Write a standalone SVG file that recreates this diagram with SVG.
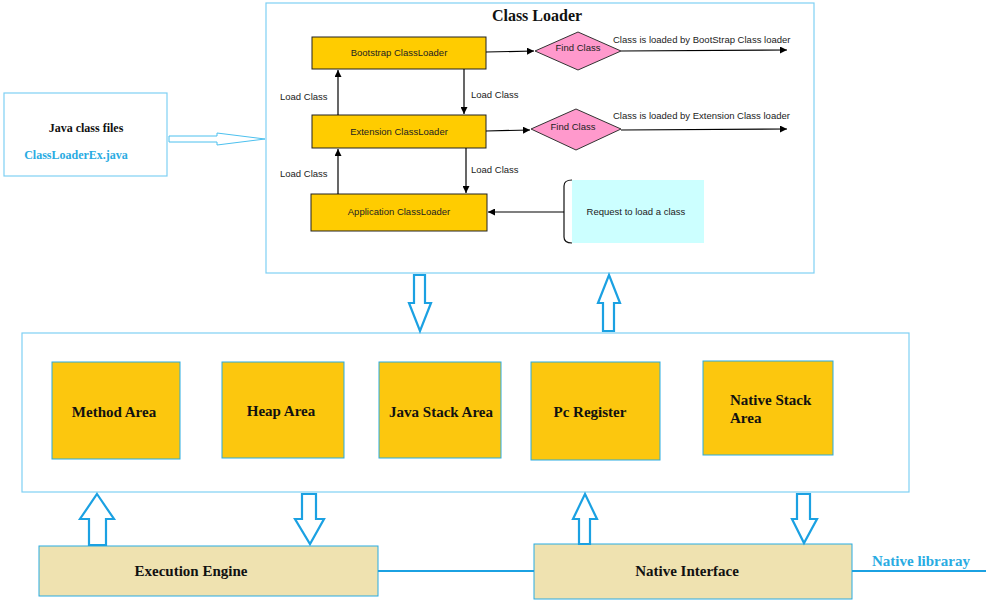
<svg xmlns="http://www.w3.org/2000/svg" width="999" height="609" viewBox="0 0 999 609">
<defs>
<marker id="ah" viewBox="0 0 10 10" refX="10" refY="5" markerWidth="7" markerHeight="7" markerUnits="userSpaceOnUse" orient="auto"><path d="M0,0 L10,5 L0,10 z" fill="#000"/></marker>
<style>
.frame{fill:#fff;stroke:#7fd0f4;stroke-width:1.2}
.cl{fill:#ffcc00;stroke:#222;stroke-width:1}
.ra{fill:#fcc70e;stroke:#29abe2;stroke-width:1}
.eng{fill:#efe2b0;stroke:#29abe2;stroke-width:1}
.dia{fill:#ff99cc;stroke:#333;stroke-width:1}
.hol{fill:#fff;stroke:#1ba1e2;stroke-width:2.2;stroke-linejoin:miter}
.hol2{fill:#fff;stroke:#4cc0ee;stroke-width:1}
.ln{stroke:#000;stroke-width:1.2;fill:none}
.bl{stroke:#1ba1e2;stroke-width:2;fill:none}
.s{font-family:"Liberation Sans",Arial,sans-serif;font-size:9.5px;fill:#222}
.b{font-family:"Liberation Serif","Times New Roman",serif;font-weight:bold;fill:#111}
</style>
</defs>
<g id="class-loader">
<rect class="frame" x="266" y="3" width="548" height="270"/>
<text class="b" x="537" y="21" font-size="16" text-anchor="middle">Class Loader</text>
</g>
<g id="java-files">
<rect class="frame" x="4" y="93" width="163" height="83"/>
<text class="b" x="86" y="132" font-size="12" text-anchor="middle">Java class files</text>
<text class="b" x="76" y="159" font-size="12" text-anchor="middle" style="fill:#29abe2">ClassLoaderEx.java</text>
</g>
<g id="bootstrap"><rect class="cl" x="312" y="37" width="174" height="32"/><text class="s" x="399" y="56" text-anchor="middle">Bootstrap ClassLoader</text></g>
<g id="extension"><rect class="cl" x="312" y="115" width="174" height="33"/><text class="s" x="399" y="135" text-anchor="middle">Extension ClassLoader</text></g>
<g id="application"><rect class="cl" x="311" y="194" width="176" height="37"/><text class="s" x="399" y="215" text-anchor="middle">Application ClassLoader</text></g>
<g id="find1"><polygon class="dia" points="535,51 578,32 621,51 578,70"/><text class="s" x="578" y="51" text-anchor="middle">Find Class</text></g>
<g id="find2"><polygon class="dia" points="531,129 576,109 621,129 576,150"/><text class="s" x="573" y="130" text-anchor="middle">Find Class</text></g>
<g id="request">
<rect x="572" y="180" width="132" height="63" fill="#ccffff"/>
<path d="M572,180 Q564,180 564,186 L564,237 Q564,243 572,243" fill="none" stroke="#111" stroke-width="1.2"/>
<text class="s" x="636" y="215" text-anchor="middle">Request to load a class</text>
</g>
<g id="runtime-area">
<rect class="frame" x="22" y="333" width="887" height="159"/>
</g>
<g id="method-area"><rect class="ra" x="52" y="362" width="128" height="97"/><text class="b" x="114" y="417" font-size="15" text-anchor="middle">Method Area</text></g>
<g id="heap-area"><rect class="ra" x="222" y="362" width="122" height="96"/><text class="b" x="281" y="416" font-size="15" text-anchor="middle">Heap Area</text></g>
<g id="java-stack-area"><rect class="ra" x="379" y="362" width="122" height="96"/><text class="b" x="441" y="417" font-size="15" text-anchor="middle">Java Stack Area</text></g>
<g id="pc-register"><rect class="ra" x="531" y="362" width="129" height="98"/><text class="b" x="590" y="417" font-size="15" text-anchor="middle">Pc Register</text></g>
<g id="native-stack-area"><rect class="ra" x="703" y="361" width="130" height="94"/><text class="b" x="730" y="405" font-size="15">Native Stack</text><text class="b" x="730" y="423" font-size="15">Area</text></g>
<g id="execution-engine"><rect class="eng" x="39" y="546" width="339" height="50"/><text class="b" x="191" y="576" font-size="15" text-anchor="middle">Execution Engine</text></g>
<g id="native-interface"><rect class="eng" x="534" y="544" width="318" height="55"/><text class="b" x="687" y="576" font-size="15" text-anchor="middle">Native Interface</text></g>
<g id="connectors">
<polygon class="hol2" points="169,136 217,136 217,133 265,139 217,145 217,142 169,142"/>
<line class="ln" x1="338" y1="115" x2="338" y2="70" marker-end="url(#ah)"/>
<line class="ln" x1="464" y1="69" x2="464" y2="114" marker-end="url(#ah)"/>
<line class="ln" x1="338" y1="194" x2="338" y2="149" marker-end="url(#ah)"/>
<line class="ln" x1="466" y1="148" x2="466" y2="193" marker-end="url(#ah)"/>
<text class="s" x="280" y="100">Load Class</text>
<text class="s" x="471" y="98">Load Class</text>
<text class="s" x="280" y="177">Load Class</text>
<text class="s" x="471" y="173">Load Class</text>
<line class="ln" x1="486" y1="52" x2="534" y2="51" marker-end="url(#ah)"/>
<line class="ln" x1="621" y1="51" x2="787" y2="50" marker-end="url(#ah)"/>
<line class="ln" x1="486" y1="131" x2="530" y2="130" marker-end="url(#ah)"/>
<line class="ln" x1="621" y1="130" x2="787" y2="129" marker-end="url(#ah)"/>
<text class="s" x="613" y="43">Class is loaded by BootStrap Class loader</text>
<text class="s" x="613" y="119">Class is loaded by Extension Class loader</text>
<line class="ln" x1="564" y1="212" x2="488" y2="212" marker-end="url(#ah)"/>
<polygon class="hol" points="414,275 425,275 425,303 431,303 420,331 409,303 414,303"/>
<polygon class="hol" points="609,275 620,303 614,303 614,331 603,331 603,303 598,303"/>
<polygon class="hol" points="97,494 114,519 106,519 106,545 89,545 89,519 80,519"/>
<polygon class="hol" points="302,494 316,494 316,519 324,519 310,544 295,519 302,519"/>
<polygon class="hol" points="585,494 597,519 590,519 590,544 579,544 579,519 573,519"/>
<polygon class="hol" points="797,494 810,494 810,519 817,519 804,543 792,519 797,519"/>
<line class="bl" x1="378" y1="571" x2="534" y2="571"/>
<line class="bl" x1="852" y1="571" x2="986" y2="571"/>
<text class="b" x="872" y="566" font-size="15" style="fill:#29abe2">Native libraray</text>
</g>
</svg>
